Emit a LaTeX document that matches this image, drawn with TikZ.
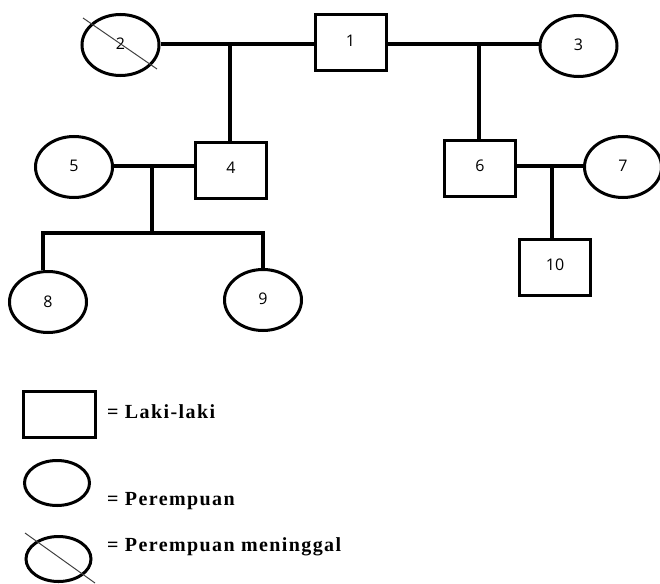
\documentclass[tikz,border=0pt]{standalone}
\usepackage{fontspec}
\setmainfont{Liberation Serif}
\newfontfamily\numfont{Open Sans}
\newfontfamily\legfont[LetterSpace=7]{Liberation Serif}
\usetikzlibrary{shapes.geometric}
\tikzset{
  sq/.style={draw, line width=3pt, rectangle, minimum width=71pt, minimum height=56pt, inner sep=0pt, font=\numfont\fontsize{16}{18}\selectfont},
  el/.style={draw, line width=3pt, ellipse, minimum width=77pt, minimum height=61pt, inner sep=0pt, font=\numfont\fontsize{16}{18}\selectfont},
  con/.style={line width=3.4pt},
  slash/.style={line width=1pt, draw=black!75},
  leg/.style={anchor=west, inner sep=0pt, font=\legfont\bfseries\fontsize{20}{22}\selectfont}
}
\begin{document}
\begin{tikzpicture}[x=1pt,y=-1pt]
\useasboundingbox (0,0) rectangle (660,583);
% generation 1
\node[el] (n2) at (120.5,45) {\raisebox{2pt}{2}};
\node[sq] (n1) at (350.5,43) {\raisebox{5pt}{1}};
\node[el] (n3) at (578.5,46) {\raisebox{2pt}{3}};
\draw[slash] (83,18) -- (157,69);
% generation 2
\node[el] (n5) at (74,167) {\raisebox{2pt}{5}};
\node[sq] (n4) at (231,170) {\raisebox{5pt}{4}};
\node[sq] (n6) at (480,168) {\raisebox{5pt}{6}};
\node[el] (n7) at (623,167) {\raisebox{2pt}{7}};
% generation 3
\node[el] (n8) at (48,302) {8};
\node[el] (n9) at (263,300) {\raisebox{2pt}{9}};
\node[sq] (n10) at (555,267) {\raisebox{5pt}{10}};
% marriage lines
\coordinate (m1) at (230,44);
\coordinate (m2) at (479,44);
\draw[con] (n2.east |- m1) -- (n1.west |- m1);
\draw[con] (n1.east |- m2) -- (n3.west |- m2);
\draw[con] (m1) -- (m1 |- n4.north);
\draw[con] (m2) -- (m2 |- n6.north);
\coordinate (m3) at (152,166);
\coordinate (m4) at (552,166);
\draw[con] (n5.east |- m3) -- (n4.west |- m3);
\draw[con] (n6.east |- m4) -- (n7.west |- m4);
\draw[con] (m4) -- (m4 |- n10.north);
% sibship
\coordinate (s0) at (152,233);
\coordinate (s8) at (43,233);
\coordinate (s9) at (263,233);
\draw[con] (m3) -- (s0);
\draw[con] (s8 |- n8.north) -- (s8) -- (s9) -- (s9 |- n9.north);
% legend
\node[draw, line width=3pt, rectangle, minimum width=72pt, minimum height=46pt, inner sep=0pt] (lm) at (59.5,414.5) {};
\node[draw, line width=3pt, ellipse, minimum width=65pt, minimum height=45pt, inner sep=0pt] (lf) at (57,483) {};
\node[draw, line width=3pt, ellipse, minimum width=65pt, minimum height=45pt, inner sep=0pt] (ld) at (58.5,559) {};
\draw[slash] (25,533) -- (95,583);
\node[leg] (t1) at (107,412) {= Laki-laki};
\node[leg] (t2) at (107,501) {= Perempuan};
\node[leg] (t3) at (107,547) {= Perempuan meninggal};
\end{tikzpicture}
\end{document}
